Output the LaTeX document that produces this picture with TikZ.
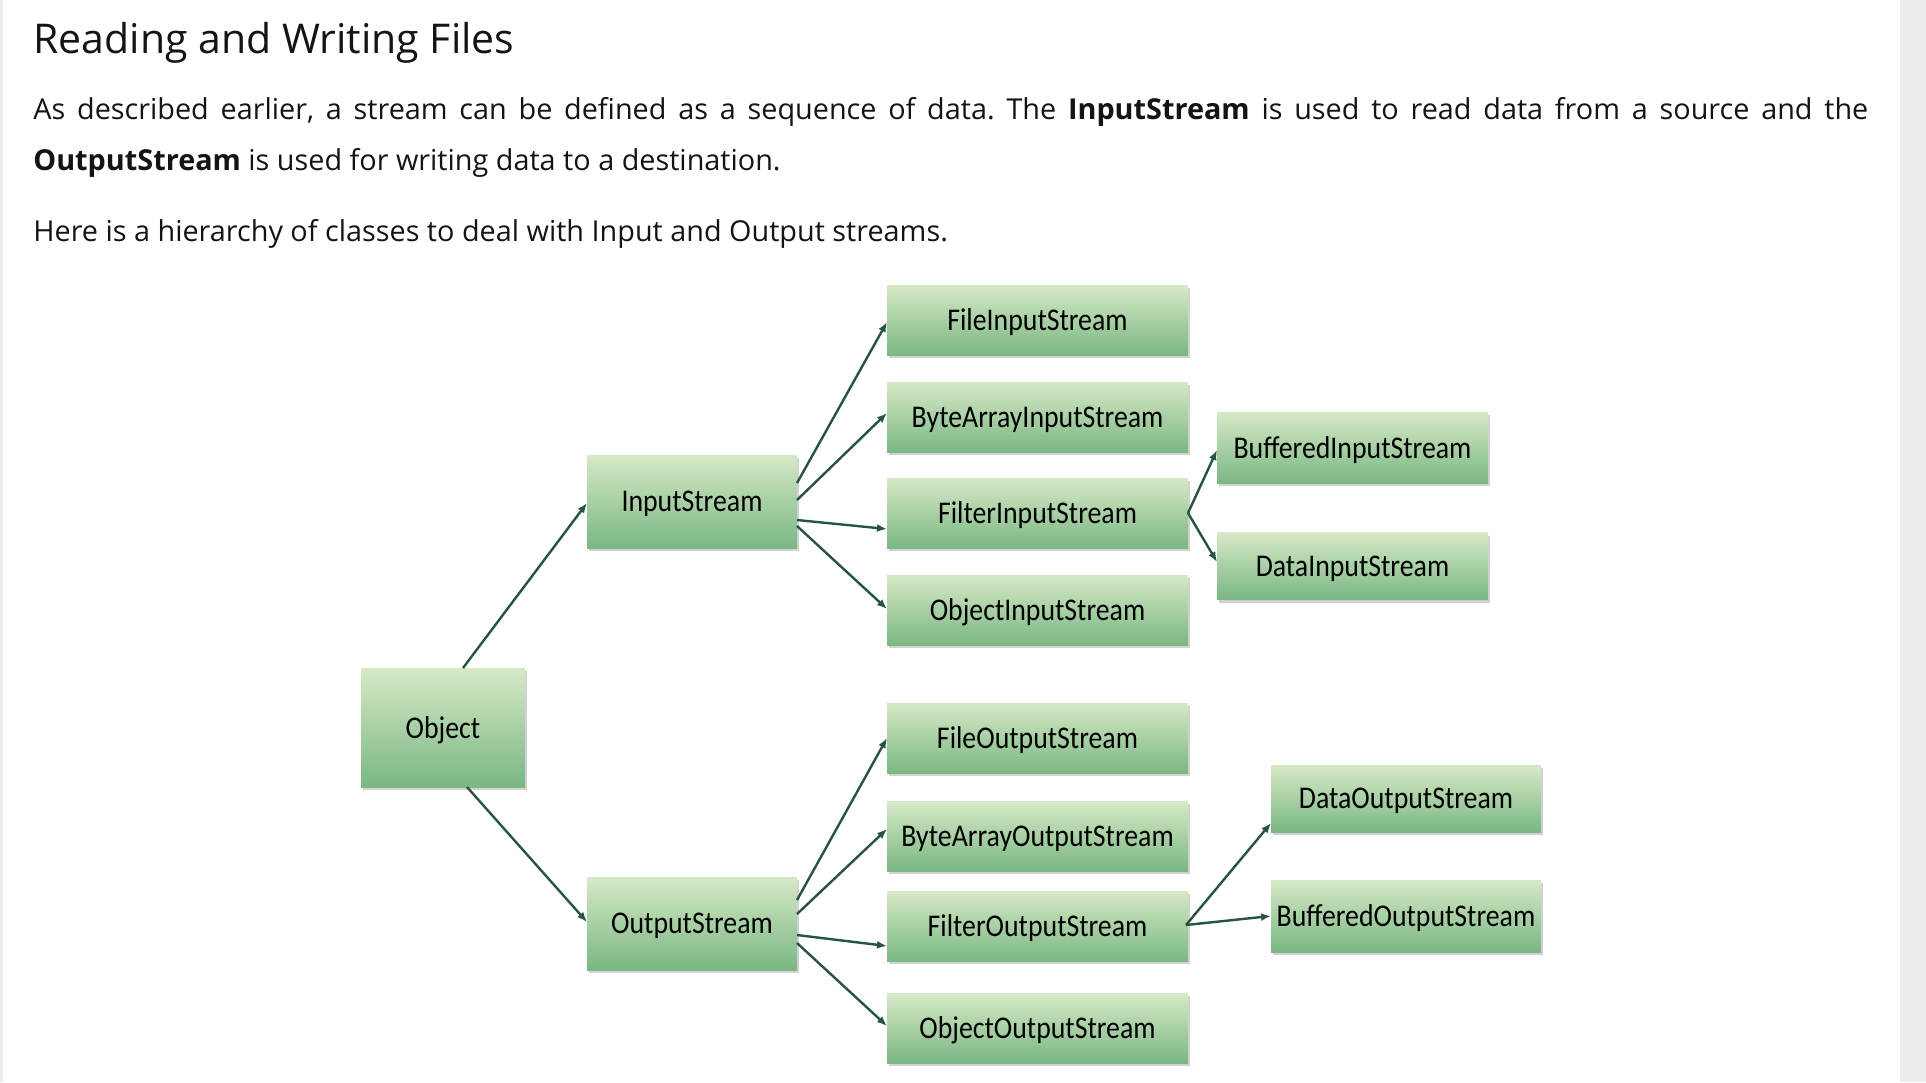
\documentclass[tikz,border=0pt]{standalone}
\usepackage{fontspec}
\setmainfont{Open Sans}
\newfontfamily\boxfont[FakeStretch=0.88]{Carlito}
\usetikzlibrary{shadows,arrows.meta,calc}
\definecolor{gtop}{RGB}{214,233,198}
\definecolor{gbot}{RGB}{122,183,131}
\definecolor{arr}{RGB}{38,84,64}
\definecolor{sidegray}{RGB}{236,236,236}
\frenchspacing
\begin{document}
\begin{tikzpicture}[x=0.5pt,y=-0.5pt,
  cls/.style={rectangle, outer sep=0pt, inner sep=0pt, top color=gtop, bottom color=gbot,
    drop shadow={shadow xshift=1pt,shadow yshift=-1.5pt,fill=black!50,opacity=0.35},
    font=\boxfont\fontsize{15.8pt}{17pt}\selectfont, text=black, text depth=0pt},
  wide/.style={cls, minimum width=150.5pt, minimum height=35pt},
  mid/.style={cls, minimum width=105pt, minimum height=46.5pt},
  sidebox/.style={cls, minimum width=135.5pt},
  conn/.style={draw=arr, line width=1.2pt, -{Latex[length=5pt,width=4pt]}},
  txt/.style={anchor=base west, inner sep=0pt, text=black!92},
]
\useasboundingbox (0,0) rectangle (1926,1082);
\fill[white] (0,0) rectangle (1926,1082);
\fill[sidegray] (1900,0) rectangle (1926,1082);
\fill[sidegray] (0,0) rectangle (3,1082);

% text
\node[txt, font=\fontsize{20.5pt}{24pt}\selectfont] (title) at (33,53) {Reading and Writing Files};
\node[txt, font=\fontsize{14.4pt}{17pt}\selectfont] (p1) at (33,119)
  {\makebox[917.5pt][s]{As described earlier, a stream can be defined as a sequence of data. The \textbf{InputStream} is used to read data from a source and the}};
\node[txt, font=\fontsize{14.4pt}{17pt}\selectfont] (p2) at (33,170)
  {\textbf{OutputStream} is used for writing data to a destination.};
\node[txt, font=\fontsize{14.4pt}{17pt}\selectfont] (p3) at (33,241)
  {Here is a hierarchy of classes to deal with Input and Output streams.};

% boxes
\node[cls, minimum width=82pt, minimum height=59.5pt] (obj) at (443,727.5) {Object};
\node[mid] (in) at (692,501.5) {InputStream};
\node[mid] (out) at (692,923.5) {OutputStream};

\node[wide] (fis) at (1037.5,320) {FileInputStream};
\node[wide] (bais) at (1037.5,417) {ByteArrayInputStream};
\node[wide] (filis) at (1037.5,513) {FilterInputStream};
\node[wide] (ois) at (1037.5,610) {ObjectInputStream};

\node[sidebox, minimum height=35.5pt] (bis) at (1352.5,447.5) {BufferedInputStream};
\node[sidebox, minimum height=33.5pt] (dis) at (1352.5,566) {DataInputStream};

\node[wide] (fos) at (1037.5,738) {FileOutputStream};
\node[wide] (baos) at (1037.5,836) {ByteArrayOutputStream};
\node[wide] (filos) at (1037.5,926) {FilterOutputStream};
\node[wide] (oos) at (1037.5,1028) {ObjectOutputStream};

\node[sidebox, minimum width=135pt, minimum height=33.5pt] (dos) at (1406,798.5) {DataOutputStream};
\node[sidebox, minimum width=135pt, minimum height=36pt] (bos) at (1406,916) {BufferedOutputStream};

% connectors
\draw[conn] ($(obj.north)+(20,0)$) -- ($(in.west)+(0,1.5)$);
\draw[conn] ($(obj.south)+(24,0)$) -- ($(out.west)+(0,-1.5)$);

\draw[conn] ($(in.east)+(0,-18.5)$) -- ($(fis.west)+(0,2)$);
\draw[conn] ($(in.east)+(0,-1.5)$) -- ($(bais.west)+(0,-4)$);
\draw[conn] ($(in.east)+(0,18.5)$) -- ($(filis.west)+(0,16)$);
\draw[conn] ($(in.east)+(0,24.5)$) -- ($(ois.west)+(0,-1)$);

\draw[conn] (filis.east) -- ($(bis.west)+(0,2.5)$);
\draw[conn] (filis.east) -- ($(dis.west)+(0,-4)$);

\draw[conn] ($(out.east)+(0,-23.5)$) -- (fos.west);
\draw[conn] ($(out.east)+(0,-9.5)$) -- ($(baos.west)+(0,-7)$);
\draw[conn] ($(out.east)+(0,11.5)$) -- ($(filos.west)+(0,20)$);
\draw[conn] ($(out.east)+(0,19.5)$) -- ($(oos.west)+(0,-2)$);

\draw[conn] ($(filos.east)+(-2,-1)$) -- ($(dos.west)+(0,24.5)$);
\draw[conn] ($(filos.east)+(-2,-1)$) -- (bos.west);
\end{tikzpicture}
\end{document}
